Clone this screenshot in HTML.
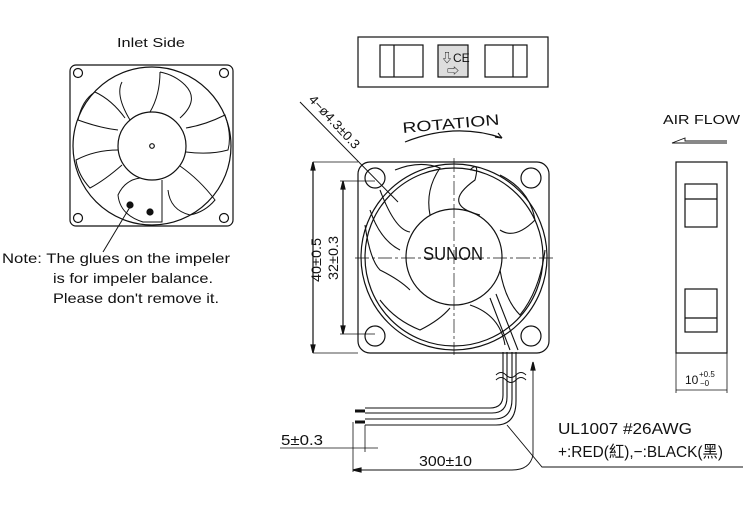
<!DOCTYPE html>
<html><head><meta charset="utf-8"><style>
body{margin:0;background:#fff}
svg{display:block}
text{font-family:"Liberation Sans","Noto Sans CJK SC",sans-serif;fill:#111}
</style></head><body>
<svg width="743" height="522" viewBox="0 0 743 522" xmlns="http://www.w3.org/2000/svg" fill="none" stroke="#111" stroke-width="1.2">
<!-- Left inlet fan -->
<text x="117" y="47" font-size="13" stroke="none" textLength="68" lengthAdjust="spacingAndGlyphs">Inlet Side</text>
<rect x="70" y="65" width="163" height="161" rx="6"/>
<circle cx="78" cy="73" r="4.5"/><circle cx="224" cy="73" r="4.5"/>
<circle cx="78" cy="218" r="4.5"/><circle cx="224" cy="218" r="4.5"/>
<circle cx="152" cy="146" r="79"/>
<circle cx="152" cy="146" r="34"/>
<circle cx="152" cy="146" r="2.3"/>
<g stroke-width="1">
<path d="M122 82 Q115 95 130 120 M150 112 Q160 95 160 72 M160 72 Q175 75 185 85 Q200 100 180 118"/>
<path d="M186 128 Q205 125 225 115 Q232 135 228 150 Q210 155 186 152"/>
<path d="M180 166 Q200 180 215 200 Q205 212 190 215 Q170 210 168 190"/>
<path d="M162 180 L162 222 L143 222 Q120 215 118 195 Q125 180 140 178"/>
<path d="M122 165 Q105 180 90 188 Q78 175 76 160 Q95 150 118 150"/>
<path d="M118 130 Q100 128 78 120 Q82 100 95 92 Q112 100 125 118"/>
</g>
<circle cx="130" cy="205" r="3" fill="#111"/><circle cx="150" cy="212" r="3" fill="#111"/>
<line x1="130" y1="207" x2="103" y2="252" stroke-width="1"/>
<g font-size="14" stroke="none">
<text x="2" y="263" textLength="228" lengthAdjust="spacingAndGlyphs">Note: The glues on the impeler</text>
<text x="53" y="283" textLength="160" lengthAdjust="spacingAndGlyphs">is for impeler balance.</text>
<text x="53" y="303" textLength="166" lengthAdjust="spacingAndGlyphs">Please don't remove it.</text>
</g>
<!-- Top label -->
<rect x="358" y="37" width="190" height="50"/>
<rect x="380" y="45" width="43" height="32"/><line x1="394" y1="45" x2="394" y2="77"/>
<rect x="438" y="45" width="30" height="32" fill="#ddd"/>
<text x="441" y="62" font-size="12" stroke="none">⇩CE</text>
<text x="447" y="75" font-size="12" stroke="none">⇨</text>
<rect x="485" y="45" width="42" height="32"/><line x1="513" y1="45" x2="513" y2="77"/>
<!-- Main fan -->
<rect x="358" y="162" width="191" height="191" rx="12"/>
<circle cx="375" cy="178" r="10"/><circle cx="531" cy="178" r="10"/>
<circle cx="375" cy="336" r="10"/><circle cx="531" cy="336" r="10"/>
<circle cx="454" cy="257" r="93"/>
<circle cx="454" cy="257" r="89"/>
<circle cx="454" cy="257" r="48"/>
<line x1="454" y1="158" x2="454" y2="355" stroke-width=".7" stroke-dasharray="14 3 3 3"/>
<line x1="355" y1="258" x2="555" y2="258" stroke-width=".7" stroke-dasharray="14 3 3 3"/>
<g stroke-width="1.1">
<path d="M395 170 Q420 160 440 168 Q425 190 430 215"/>
<path d="M470 170 Q480 160 475 180 Q440 205 480 215"/>
<path d="M500 175 Q530 190 535 220 Q515 240 500 230"/>
<path d="M545 250 Q540 290 520 315 Q505 300 500 270"/>
<path d="M470 305 Q500 315 505 345"/>
<path d="M380 300 Q395 320 420 330 Q440 320 450 308"/>
<path d="M365 225 Q370 260 380 270 Q400 280 410 290"/>
<path d="M370 210 Q380 240 400 250 M380 190 Q395 230 410 232"/>
<path d="M490 298 L510 350 M496 294 L518 350"/>
</g>
<text x="423" y="260" font-size="18" stroke="none" textLength="60" lengthAdjust="spacingAndGlyphs">SUNON</text>
<!-- ROTATION -->
<text x="0" y="0" font-size="15" stroke="none" transform="translate(403,133) rotate(-5)" textLength="97" lengthAdjust="spacingAndGlyphs">ROTATION</text>
<path d="M405 142 Q455 122 502 138"/>
<path d="M502 138 l-7 -1 M502 138 l-4 -5"/>
<!-- hole leader -->
<line x1="300" y1="102" x2="398" y2="202" stroke-width="1"/>
<text x="0" y="0" font-size="13" stroke="none" transform="translate(308,100) rotate(47)" textLength="68" lengthAdjust="spacingAndGlyphs">4−ø4.3±0.3</text>
<!-- dims -->
<line x1="313" y1="162" x2="358" y2="162" stroke-width=".8"/>
<line x1="313" y1="353" x2="358" y2="353" stroke-width=".8"/>
<line x1="313" y1="162" x2="313" y2="353"/>
<path d="M313 162 l-2 8 h4z M313 353 l-2 -8 h4z" fill="#111"/>
<text x="0" y="0" font-size="14" stroke="none" transform="translate(321,282) rotate(-90)" textLength="44" lengthAdjust="spacingAndGlyphs">40±0.5</text>
<line x1="340" y1="181" x2="375" y2="181" stroke-width=".8"/>
<line x1="340" y1="334" x2="375" y2="334" stroke-width=".8"/>
<line x1="343" y1="181" x2="343" y2="334"/>
<path d="M343 181 l-2 8 h4z M343 334 l-2 -8 h4z" fill="#111"/>
<text x="0" y="0" font-size="14" stroke="none" transform="translate(338,280) rotate(-90)" textLength="44" lengthAdjust="spacingAndGlyphs">32±0.3</text>
<!-- wires -->
<g stroke-width="1.1">
<path d="M503 352 V395 Q503 408 490 408 H365"/>
<path d="M507 352 V397 Q507 413 492 413 H365"/>
<path d="M512 352 V399 Q512 419 494 419 H365"/>
<path d="M516 352 V401 Q516 425 496 425 H365"/>
</g>
<path d="M496 375 q5 -5 10 0 t10 0 t10 0 M496 380 q5 -5 10 0 t10 0 t10 0" stroke-width="1"/>
<line x1="355" y1="411" x2="365" y2="411" stroke-width="3"/>
<line x1="355" y1="422" x2="365" y2="422" stroke-width="3"/>
<line x1="353" y1="422" x2="353" y2="472" stroke-width=".8"/>
<line x1="365" y1="425" x2="365" y2="452" stroke-width=".8"/>
<line x1="280" y1="448" x2="378" y2="448" stroke-width=".8"/>
<text x="281" y="445" font-size="15" stroke="none" textLength="42" lengthAdjust="spacingAndGlyphs">5±0.3</text>
<path d="M353 470 H512 Q530 470 533 455 V362" stroke-width=".9"/>
<path d="M353 470 l8 -2 v4z M533 362 l-2 8 h4z" fill="#111"/>
<text x="419" y="466" font-size="15" stroke="none" textLength="53" lengthAdjust="spacingAndGlyphs">300±10</text>
<path d="M507 425 L542 467 H743" stroke-width=".9"/>
<text x="558" y="434" font-size="16" stroke="none" textLength="134" lengthAdjust="spacingAndGlyphs">UL1007   #26AWG</text>
<text x="558" y="457" font-size="16" stroke="none" textLength="165" lengthAdjust="spacingAndGlyphs">+:RED(紅),−:BLACK(黑)</text>
<!-- side view -->
<text x="663" y="124" font-size="13" stroke="none" textLength="77" lengthAdjust="spacingAndGlyphs">AIR FLOW</text>
<path d="M727 143 H672 L685 138 V141 H727" stroke-width=".9"/>
<rect x="676" y="162" width="51" height="191"/>
<line x1="676" y1="353" x2="676" y2="393" stroke-width=".8"/>
<line x1="727" y1="353" x2="727" y2="393" stroke-width=".8"/>
<line x1="676" y1="390" x2="727" y2="390" stroke-width=".8"/>
<rect x="685" y="184" width="32" height="43"/><line x1="685" y1="199" x2="717" y2="199"/>
<rect x="685" y="289" width="32" height="43"/><line x1="685" y1="318" x2="717" y2="318"/>
<text x="685" y="384" font-size="12" stroke="none">10</text>
<text x="699" y="377" font-size="8" stroke="none">+0.5</text>
<text x="700" y="386" font-size="8" stroke="none">−0</text>
</svg>
</body></html>
